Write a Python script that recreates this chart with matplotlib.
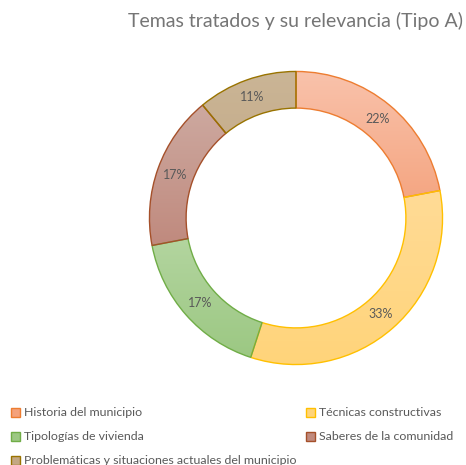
import numpy as np
import matplotlib.pyplot as plt
from matplotlib.colors import LinearSegmentedColormap

plt.rcParams['font.family'] = ['Lato', 'DejaVu Sans']

temas = ["Historia del municipio", "Técnicas constructivas", "Tipologías de vivienda",
         "Saberes de la comunidad", "Problemáticas y situaciones actuales del municipio"]
porcentajes = [22, 33, 17, 17, 11]
color_arriba = ["#F9C2AB", "#FFDB96", "#B7D7A4", "#CDA9A0", "#CAB596"]
color_abajo = ["#F4A27C", "#FFD47A", "#9CC883", "#C08A7E", "#C3A783"]
bordes = ["#ED7D31", "#FFC000", "#70AD47", "#A5502A", "#997300"]

fig = plt.figure(figsize=(4.66, 4.65), dpi=100)
ax = fig.add_axes([148 / 466, 99 / 465, 296 / 466, 296 / 465])

wedges, textos, autotextos = ax.pie(
    porcentajes, startangle=90, counterclock=False, radius=1,
    colors=color_abajo, autopct="%1.0f%%", pctdistance=0.875,
    wedgeprops=dict(width=0.25, linewidth=1.0),
    textprops=dict(color="#595959", fontsize=9))

# gradiente vertical en cada segmento
for w, c1, c2, ec in zip(wedges, color_arriba, color_abajo, bordes):
    w.set_edgecolor(ec)
    verts = w.get_path().vertices
    x0, x1 = verts[:, 0].min(), verts[:, 0].max()
    y0, y1 = verts[:, 1].min(), verts[:, 1].max()
    cmap = LinearSegmentedColormap.from_list("g", [c2, c1])
    grad = np.linspace(0, 1, 100).reshape(-1, 1)
    im = ax.imshow(grad, cmap=cmap, extent=[x0, x1, y0, y1], origin="lower",
                   aspect="auto", zorder=w.get_zorder() + 0.1)
    im.set_clip_path(w)
    w.set_facecolor("none")
    w.set_zorder(w.get_zorder() + 0.2)
for t in autotextos:
    t.set_zorder(5)

ax.set_xlim(-1.01, 1.01)
ax.set_ylim(-1.01, 1.01)
ax.set_aspect("equal")
ax.axis("off")

fig.text(0.635, 0.955, "Temas tratados y su relevancia (Tipo A)", ha="center", va="center",
         fontsize=14, color="#757575")

orden = [0, 2, 4, 1, 3]
leg = fig.legend([wedges[i] for i in orden], [temas[i] for i in orden],
                 loc="lower left", bbox_to_anchor=(0.0, -0.027), ncol=2, frameon=False,
                 fontsize=8.9, labelcolor="#595959", handlelength=0.75, handleheight=0.75,
                 handletextpad=0.3, columnspacing=0.75, labelspacing=1.05)
for h, i in zip(leg.legend_handles, orden):
    h.set_facecolor(color_abajo[i])
    h.set_edgecolor(bordes[i])

fig.savefig("out.png", dpi=100)
